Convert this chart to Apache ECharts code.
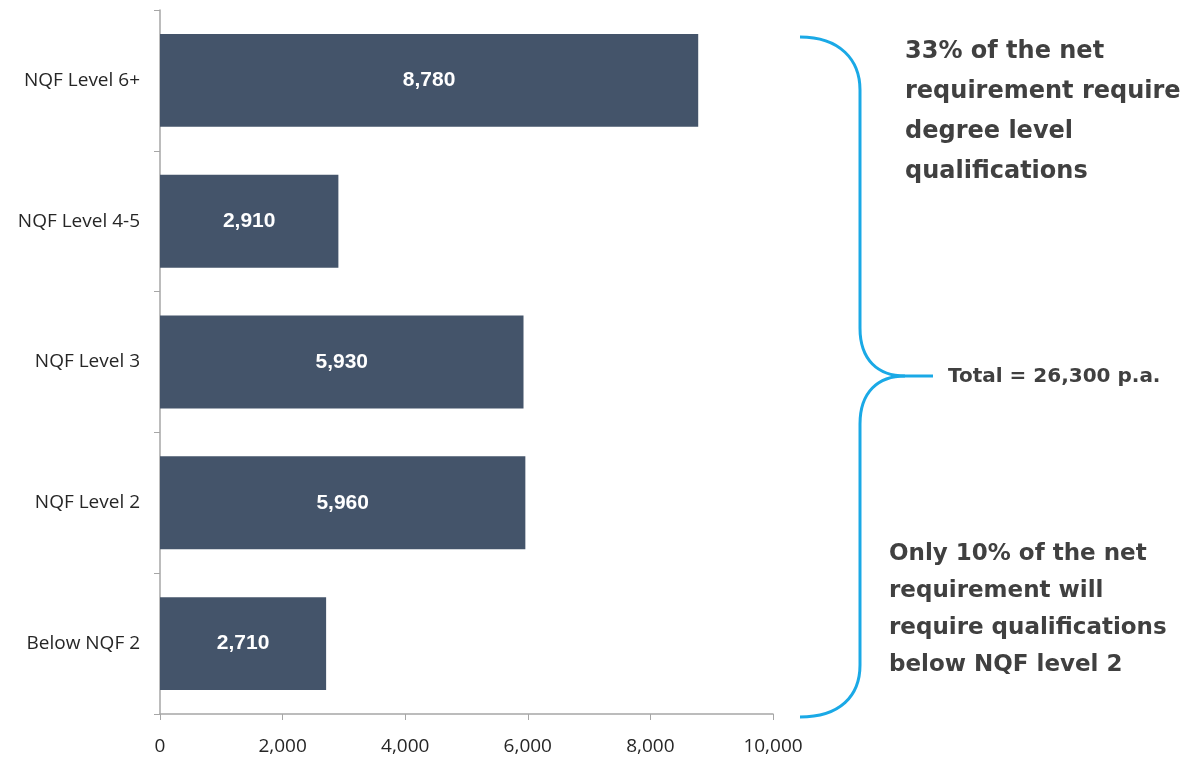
<!DOCTYPE html>
<html>
<head>
<meta charset="utf-8">
<script src="https://cdn.jsdelivr.net/npm/echarts@6/dist/echarts.min.js"></script>
<style>
html,body{margin:0;padding:0;background:#fff;}
#chart{width:1187px;height:758px;}
</style>
</head>
<body>
<div id="chart"></div>
<script>
const categories = ['Below NQF 2', 'NQF Level 2', 'NQF Level 3', 'NQF Level 4-5', 'NQF Level 6+'];
const values = [2710, 5960, 5930, 2910, 8780];
const xTicks = [0, 2000, 4000, 6000, 8000, 10000];
const noteTop = ['33% of the net', 'requirement require', 'degree level', 'qualifications'];
const noteTotal = 'Total = 26,300 p.a.';
const noteBottom = ['Only 10% of the net', 'requirement will', 'require qualifications', 'below NQF level 2'];

const chart = echarts.init(document.getElementById('chart'));
const textColor = '#404040';
const braceStyle = {stroke: '#1aa9e6', lineWidth: 3, fill: 'none'};
function bez(x1, y1, c1x, c1y, c2x, c2y, x2, y2) {
  return {type: 'bezierCurve', shape: {x1, y1, x2, y2, cpx1: c1x, cpy1: c1y, cpx2: c2x, cpy2: c2y}, style: braceStyle};
}
function seg(x1, y1, x2, y2) {
  return {type: 'line', shape: {x1, y1, x2, y2}, style: braceStyle};
}
chart.setOption({
  animation: false,
  backgroundColor: '#ffffff',
  grid: {left: 160, top: 10, width: 613, height: 704, containLabel: false},
  xAxis: {
    type: 'value',
    min: xTicks[0], max: xTicks[xTicks.length - 1], interval: 2000,
    axisLine: {show: true, lineStyle: {color: '#a6a6a6', width: 1.5}},
    axisTick: {show: true, length: 6, inside: false, lineStyle: {color: '#a6a6a6'}},
    splitLine: {show: false},
    axisLabel: {
      margin: 23, fontFamily: 'Open Sans', fontSize: 19, color: '#262626',
      formatter: v => v.toLocaleString('en-US')
    }
  },
  yAxis: {
    type: 'category',
    data: categories,
    axisLine: {show: true, lineStyle: {color: '#a6a6a6', width: 1.5}},
    axisTick: {show: true, length: 6, lineStyle: {color: '#a6a6a6'}},
    axisLabel: {margin: 20, fontFamily: 'Open Sans', fontSize: 19, color: '#262626'}
  },
  series: [{
    type: 'bar',
    data: values,
    barCategoryGap: '34%',
    itemStyle: {color: '#44546a'},
    label: {
      show: true, position: 'inside', color: '#ffffff',
      fontFamily: 'Liberation Sans', fontWeight: 'bold', fontSize: 21,
      formatter: p => p.value.toLocaleString('en-US')
    }
  }],
  graphic: [
    bez(800, 37, 840, 37, 860, 60, 860, 90),
    seg(860, 90, 860, 328),
    bez(860, 328, 860, 360, 878, 376, 905, 376),
    seg(905, 376, 933, 376),
    bez(905, 376, 878, 376, 860, 392, 860, 424),
    seg(860, 424, 860, 665),
    bez(860, 665, 860, 696, 840, 717, 800, 717),
    {
      type: 'text', left: 905, top: 32,
      style: {text: noteTop.join('\n'), font: 'bold 24px "DejaVu Sans"', fill: textColor, lineHeight: 40}
    },
    {
      type: 'text', left: 948, top: 367,
      style: {text: noteTotal, font: 'bold 20px "DejaVu Sans"', fill: textColor}
    },
    {
      type: 'text', left: 889, top: 536,
      style: {text: noteBottom.join('\n'), font: 'bold 23px "DejaVu Sans"', fill: textColor, lineHeight: 37}
    }
  ]
});
</script>
</body>
</html>
